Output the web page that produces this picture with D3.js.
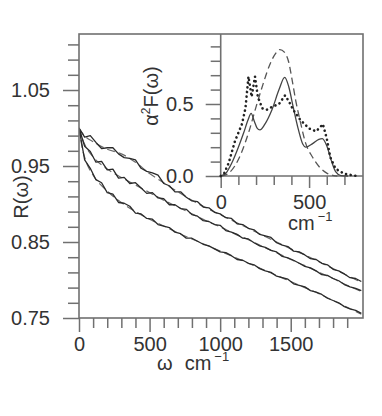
<!DOCTYPE html>
<html>
<head>
<meta charset="utf-8">
<script src="https://cdn.jsdelivr.net/npm/d3@7"></script>
<style>
  html, body { margin: 0; padding: 0; background: #fff; }
  svg text { font-family: "Liberation Sans", Arial, sans-serif; fill: #333; }
</style>
</head>
<body>
<svg id="chart" width="382" height="416"></svg>
<script>
// main panel: reflectivity R(w), three spectra, measured (solid) + fit (dashed)
const expOmega = [0, 40, 80, 120, 160, 200, 240, 280, 320, 360, 400, 440, 480, 520, 560, 600, 640, 680, 720, 760,
  800, 840, 880, 920, 960, 1000, 1040, 1080, 1120, 1160, 1200, 1240, 1280, 1320, 1360, 1400, 1440, 1480, 1520, 1560,
  1600, 1640, 1680, 1720, 1760, 1800, 1840, 1880, 1920, 1960, 2000];
const topExp = [1.000, 0.988, 0.990, 0.981, 0.973, 0.974, 0.974, 0.966, 0.961, 0.960, 0.958, 0.947, 0.943, 0.941, 0.938,
  0.927, 0.924, 0.916, 0.916, 0.909, 0.904, 0.903, 0.896, 0.895, 0.889, 0.887, 0.882, 0.881, 0.874, 0.873, 0.868,
  0.866, 0.860, 0.858, 0.856, 0.849, 0.846, 0.844, 0.838, 0.837, 0.833, 0.828, 0.827, 0.822, 0.820, 0.814, 0.812,
  0.808, 0.803, 0.802, 0.798];
const midExp = [1.000, 0.976, 0.969, 0.955, 0.956, 0.945, 0.946, 0.934, 0.935, 0.927, 0.928, 0.921, 0.914, 0.915, 0.908,
  0.907, 0.899, 0.899, 0.894, 0.893, 0.886, 0.884, 0.878, 0.877, 0.873, 0.872, 0.865, 0.863, 0.860, 0.855, 0.854,
  0.849, 0.845, 0.843, 0.839, 0.837, 0.831, 0.829, 0.826, 0.822, 0.818, 0.816, 0.812, 0.807, 0.806, 0.802, 0.799,
  0.794, 0.791, 0.789, 0.786];
const lowExp = [1.000, 0.958, 0.947, 0.932, 0.928, 0.915, 0.913, 0.902, 0.901, 0.897, 0.888, 0.887, 0.881, 0.880, 0.873,
  0.871, 0.869, 0.863, 0.861, 0.855, 0.855, 0.851, 0.847, 0.845, 0.841, 0.837, 0.836, 0.832, 0.827, 0.826, 0.822,
  0.820, 0.815, 0.812, 0.810, 0.805, 0.803, 0.801, 0.795, 0.793, 0.791, 0.786, 0.784, 0.781, 0.776, 0.773, 0.770,
  0.765, 0.762, 0.760, 0.756];

const fitOmega = [0, 25, 50, 100, 200, 300, 400, 500, 600, 700, 800, 900, 1000, 1100, 1200, 1300, 1400, 1500, 1600,
  1700, 1800, 1900, 2000];
const topFit = [1.000, 0.993, 0.988, 0.982, 0.972, 0.966, 0.955, 0.940, 0.928, 0.916, 0.905, 0.895, 0.886, 0.877, 0.868,
  0.859, 0.850, 0.841, 0.833, 0.824, 0.815, 0.806, 0.797];
const midFit = [1.000, 0.985, 0.975, 0.962, 0.946, 0.935, 0.925, 0.915, 0.905, 0.896, 0.887, 0.878, 0.870, 0.861, 0.853,
  0.844, 0.836, 0.827, 0.819, 0.810, 0.802, 0.793, 0.785];
const lowFit = [1.000, 0.972, 0.956, 0.938, 0.917, 0.902, 0.890, 0.880, 0.871, 0.862, 0.854, 0.846, 0.838, 0.830, 0.822,
  0.814, 0.806, 0.798, 0.790, 0.782, 0.773, 0.764, 0.755];

const mainXMajor = [0, 500, 1000, 1500];
const mainYMajor = [0.75, 0.85, 0.95, 1.05];

// inset: a2F(w), three curves
const solidOmega = [0, 30, 50, 70, 100, 130, 155, 172, 190, 205, 222, 250, 290, 330, 362, 385, 410, 440, 465, 480, 520,
  555, 575, 600, 625, 650, 680, 720];
const solidA2F = [0, 0.02, 0.06, 0.11, 0.20, 0.30, 0.39, 0.435, 0.38, 0.335, 0.32, 0.36, 0.46, 0.60, 0.685, 0.62, 0.48,
  0.32, 0.22, 0.20, 0.225, 0.255, 0.26, 0.21, 0.11, 0.03, 0.003, 0];
const dashOmega = [0, 40, 80, 120, 160, 200, 240, 280, 310, 335, 360, 385, 405, 425, 450, 480, 520, 560, 600, 640, 660];
const dashA2F = [0, 0.015, 0.07, 0.17, 0.31, 0.48, 0.64, 0.78, 0.85, 0.878, 0.86, 0.79, 0.66, 0.52, 0.38, 0.23, 0.13,
  0.06, 0.02, 0.003, 0];
const dotOmega = [0, 20, 45, 80, 120, 140, 157, 175, 194, 210, 235, 260, 290, 330, 364, 385, 410, 450, 500, 540, 578,
  600, 620, 650, 700, 770];
const dotA2F = [0, 0.02, 0.09, 0.24, 0.36, 0.47, 0.69, 0.55, 0.69, 0.55, 0.47, 0.46, 0.48, 0.50, 0.56, 0.52, 0.46, 0.39,
  0.33, 0.31, 0.36, 0.26, 0.13, 0.05, 0.015, 0];

const insetXMajor = [0, 500];
const insetYMajor = [0, 0.5];

const AXIS = '#707070';
const INK = '#2a2a2a';
const FONT = 20;

const svg = d3.select('#chart');
svg.append('rect').attr('width', 382).attr('height', 416).attr('fill', '#fff');

const x = d3.scaleLinear().domain([0, 2012]).range([79, 363]);
const y = d3.scaleLinear().domain([0.75, 1.1237]).range([318, 34]);
const ix = d3.scaleLinear().domain([0, 805]).range([220.7, 363]);
const iy = d3.scaleLinear().domain([0, 0.986]).range([176, 34]);

function styleAxis(g) {
  g.select('.domain').remove();
  g.selectAll('line').attr('stroke', AXIS).attr('stroke-width', 1.5);
  g.selectAll('text').attr('font-size', FONT).attr('fill', '#333');
}

function pairs(xs, ys) {
  return xs.map((v, i) => [v, ys[i]]);
}

function drawMain() {
  svg.append('clipPath').attr('id', 'mainClip')
    .append('rect').attr('x', 79).attr('y', 34).attr('width', 284).attr('height', 284);

  const minorX = d3.range(100, 2000, 100).filter(v => v % 500 !== 0);
  svg.append('g').attr('transform', 'translate(0,318)')
    .call(d3.axisBottom(x).tickValues(minorX).tickSize(10).tickFormat(''))
    .call(styleAxis);
  svg.append('g').attr('transform', 'translate(0,318)')
    .call(d3.axisBottom(x).tickValues(mainXMajor).tickSize(14).tickPadding(5).tickFormat(d3.format('d')))
    .call(styleAxis);

  const minorY = d3.range(0.77, 1.12, 0.02).filter(v => !mainYMajor.some(m => Math.abs(m - v) < 1e-6));
  svg.append('g').attr('transform', 'translate(79,0)')
    .call(d3.axisLeft(y).tickValues(minorY).tickSize(11).tickFormat(''))
    .call(styleAxis);
  svg.append('g').attr('transform', 'translate(79,0)')
    .call(d3.axisLeft(y).tickValues(mainYMajor).tickSize(16).tickPadding(13).tickFormat(d3.format('.2f')))
    .call(styleAxis);

  const expLine = d3.line().x(d => x(d[0])).y(d => y(d[1]));
  const fitLine = d3.line().x(d => x(d[0])).y(d => y(d[1])).curve(d3.curveMonotoneX);

  const plot = svg.append('g').attr('clip-path', 'url(#mainClip)');
  for (const fit of [topFit, midFit, lowFit]) {
    plot.append('path').attr('d', fitLine(pairs(fitOmega, fit)))
      .attr('fill', 'none').attr('stroke', '#6a6a6a').attr('stroke-width', 1.2)
      .attr('stroke-dasharray', '8,4');
  }
  for (const exp of [topExp, midExp, lowExp]) {
    plot.append('path').attr('d', expLine(pairs(expOmega, exp)))
      .attr('fill', 'none').attr('stroke', INK).attr('stroke-width', 1.3)
      .attr('stroke-linejoin', 'round');
  }

  // frame
  svg.append('rect').attr('x', 79).attr('y', 34).attr('width', 284).attr('height', 284)
    .attr('fill', 'none').attr('stroke', AXIS).attr('stroke-width', 1.6);

  // axis titles
  const xt = svg.append('text').attr('x', 157).attr('y', 370).attr('font-size', FONT);
  xt.append('tspan').text('ω');
  xt.append('tspan').attr('dx', 12).text('cm');
  xt.append('tspan').attr('dx', 3).attr('dy', -9).attr('font-size', 13).text('−1');

  svg.append('text').attr('transform', 'translate(28,197) rotate(-90)')
    .attr('text-anchor', 'middle').attr('font-size', FONT).text('R(ω)');
}

function drawInset() {
  const minorX = d3.range(100, 800, 100).filter(v => v !== 500);
  svg.append('g').attr('transform', 'translate(0,176)')
    .call(d3.axisBottom(ix).tickValues(minorX).tickSize(9).tickFormat(''))
    .call(styleAxis);
  svg.append('g').attr('transform', 'translate(0,176)')
    .call(d3.axisBottom(ix).tickValues(insetXMajor).tickSize(12).tickPadding(7).tickFormat(d3.format('d')))
    .call(styleAxis);

  const minorY = [0.1, 0.2, 0.3, 0.4, 0.6, 0.7, 0.8, 0.9];
  svg.append('g').attr('transform', 'translate(220.7,0)')
    .call(d3.axisLeft(iy).tickValues(minorY).tickSize(10).tickFormat(''))
    .call(styleAxis);
  svg.append('g').attr('transform', 'translate(220.7,0)')
    .call(d3.axisLeft(iy).tickValues(insetYMajor).tickSize(15).tickPadding(12).tickFormat(d3.format('.1f')))
    .call(styleAxis);

  // inset box (shares top and right with main frame)
  svg.append('path').attr('d', `M220.7,34V176H363`)
    .attr('fill', 'none').attr('stroke', AXIS).attr('stroke-width', 1.6);

  const line = d3.line().x(d => ix(d[0])).y(d => iy(d[1])).curve(d3.curveMonotoneX);

  svg.append('path').attr('d', line(pairs(dashOmega, dashA2F)))
    .attr('fill', 'none').attr('stroke', '#555').attr('stroke-width', 1.3)
    .attr('stroke-dasharray', '7,4');
  svg.append('path').attr('d', line(pairs(solidOmega, solidA2F)))
    .attr('fill', 'none').attr('stroke', '#444').attr('stroke-width', 1.3);
  svg.append('path').attr('d', d3.line().x(d => ix(d[0])).y(d => iy(d[1]))(pairs(dotOmega, dotA2F)))
    .attr('fill', 'none').attr('stroke', '#222').attr('stroke-width', 2.6)
    .attr('stroke-linecap', 'round').attr('stroke-dasharray', '0.1,4.6');

  const xt = svg.append('text').attr('x', 288).attr('y', 230).attr('font-size', FONT);
  xt.append('tspan').text('cm');
  xt.append('tspan').attr('dx', 3).attr('dy', -9).attr('font-size', 13).text('−1');

  const yt = svg.append('text').attr('transform', 'translate(158,96) rotate(-90)')
    .attr('text-anchor', 'middle').attr('font-size', FONT);
  yt.append('tspan').text('α');
  yt.append('tspan').attr('dy', -8).attr('font-size', 12).text('2');
  yt.append('tspan').attr('dy', 8).text('F(ω)');
}

drawMain();
drawInset();
</script>
</body>
</html>
